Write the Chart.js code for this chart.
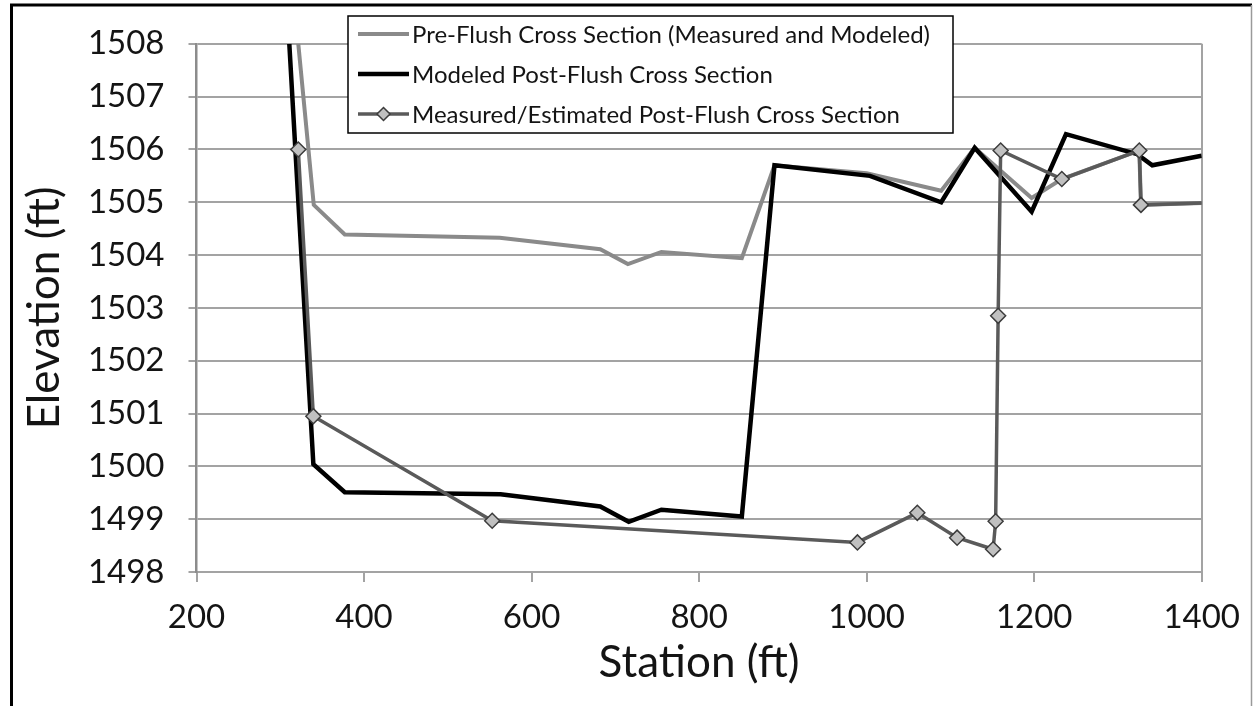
<!DOCTYPE html>
<html>
<head>
<meta charset="utf-8">
<script src="https://cdn.jsdelivr.net/npm/chart.js@4.4.1/dist/chart.umd.min.js"></script>
<style>
  html, body { margin: 0; padding: 0; background: #fff; }
  #wrap { width: 1257px; height: 706px; }
</style>
</head>
<body>
<div id="wrap"><canvas id="grafico" width="1257" height="706"></canvas></div>
<script>
// station (ft) and elevation (ft)
var preStation  = [321.5, 340, 377, 562, 682, 715, 755, 851, 890, 1000, 1089, 1129, 1197, 1233, 1325.5, 1327.5, 1430];
var preElev     = [1508, 1504.95, 1504.39, 1504.33, 1504.11, 1503.83, 1504.06, 1503.94, 1505.7, 1505.55, 1505.22, 1506.03, 1505.08, 1505.44, 1505.98, 1504.95, 1505.0];

var modStation  = [310.8, 339.5, 377, 563, 682, 716, 755, 851, 890, 1004, 1089, 1129, 1197, 1238, 1323, 1341, 1400];
var modElev     = [1508, 1500.04, 1499.51, 1499.47, 1499.24, 1498.95, 1499.18, 1499.05, 1505.7, 1505.5, 1505.0, 1506.03, 1504.82, 1506.29, 1505.91, 1505.7, 1505.88];

var measStation = [321.5, 339.5, 553, 989, 1060.5, 1108, 1151, 1154, 1157, 1160, 1233, 1325.5, 1327.5, 1430];
var measElev    = [1506.0, 1500.95, 1498.97, 1498.56, 1499.12, 1498.65, 1498.43, 1498.96, 1502.85, 1505.98, 1505.44, 1505.98, 1504.95, 1505.0];

var nombres = [
    "Pre-Flush Cross Section (Measured and Modeled)",
    "Modeled Post-Flush Cross Section",
    "Measured/Estimated Post-Flush Cross Section"
];

var xMin = 200, xMax = 1400, xPaso = 200;
var yMin = 1498, yMax = 1508, yPaso = 1;

function pares(xs, ys) {
    return xs.map(function (x, i) { return {x: x, y: ys[i]}; });
}

var colorTexto = '#141414';
var colorRejilla = '#a3a3a3';

var datos = [
    {label: nombres[0], data: pares(preStation, preElev), borderColor: '#8a8a8a', borderWidth: 4, pointRadius: 0, order: 3},
    {label: nombres[1], data: pares(modStation, modElev), borderColor: '#000000', borderWidth: 4.5, pointRadius: 0, order: 2},
    {label: nombres[2], data: pares(measStation, measElev), borderColor: '#5a5a5a', borderWidth: 3.5,
        pointStyle: 'rectRot', pointRadius: 7.5, pointBackgroundColor: '#c0c0c0', pointBorderColor: '#3c3c3c', pointBorderWidth: 1.5, order: 1}
];

// white page plus the frame around the picture
var marco = {
    id: 'marco',
    beforeDraw: function (chart) {
        var ctx = chart.ctx;
        ctx.save();
        ctx.fillStyle = '#fff';
        ctx.fillRect(0, 0, chart.width, chart.height);
        ctx.restore();
    },
    afterDraw: function (chart) {
        var ctx = chart.ctx;
        ctx.save();
        ctx.strokeStyle = '#000';
        ctx.lineWidth = 3;
        ctx.beginPath();
        ctx.moveTo(11.5, 720); ctx.lineTo(11.5, 5); ctx.lineTo(1252, 5);
        ctx.stroke();
        ctx.strokeStyle = '#9a9a9a';
        ctx.lineWidth = 1.5;
        ctx.beginPath();
        ctx.moveTo(1251.5, 5); ctx.lineTo(1251.5, 720);
        ctx.stroke();
        ctx.restore();
    }
};

// boxed legend sitting inside the plot
var leyenda = {
    id: 'leyenda',
    afterDatasetsDraw: function (chart) {
        var ctx = chart.ctx;
        ctx.save();
        ctx.fillStyle = '#fff';
        ctx.fillRect(348, 16, 605, 117);
        ctx.strokeStyle = '#000';
        ctx.lineWidth = 1.5;
        ctx.strokeRect(348, 16, 605, 117);
        ctx.font = '24px Lato';
        ctx.textBaseline = 'middle';
        chart.data.datasets.forEach(function (ds, i) {
            var y = 34 + i * 40;
            ctx.strokeStyle = ds.borderColor;
            ctx.lineWidth = ds.borderWidth;
            ctx.beginPath();
            ctx.moveTo(358, y); ctx.lineTo(409, y);
            ctx.stroke();
            if (ds.pointRadius > 0) {
                var r = 6.5, cx = 383.5;
                ctx.beginPath();
                ctx.moveTo(cx, y - r); ctx.lineTo(cx + r, y); ctx.lineTo(cx, y + r); ctx.lineTo(cx - r, y);
                ctx.closePath();
                ctx.fillStyle = ds.pointBackgroundColor;
                ctx.fill();
                ctx.strokeStyle = ds.pointBorderColor;
                ctx.lineWidth = ds.pointBorderWidth;
                ctx.stroke();
            }
            ctx.fillStyle = colorTexto;
            ctx.fillText(ds.label, 412, y + 1);
        });
        ctx.restore();
    }
};

function sinComa(v) { return String(v); }

var grafico = new Chart(document.getElementById("grafico").getContext("2d"), {
    type: 'line',
    data: {datasets: datos},
    plugins: [marco, leyenda],
    options: {
        responsive: false,
        animation: false,
        devicePixelRatio: 1,
        layout: {padding: {left: 10, right: 55.3, top: 33.3, bottom: 0}},
        elements: {line: {tension: 0, fill: false}},
        plugins: {legend: {display: false}, tooltip: {enabled: false}},
        scales: {
            x: {
                type: 'linear', min: xMin, max: xMax,
                afterFit: function (s) { s.height = 134; },
                ticks: {stepSize: xPaso, padding: 16, color: colorTexto, font: {family: 'Lato', size: 33}, callback: sinComa},
                grid: {
                    color: function (c) { return c.tick && c.tick.value === xMax ? colorRejilla : 'rgba(0,0,0,0)'; },
                    tickColor: colorRejilla, lineWidth: 2, tickLength: 10
                },
                border: {color: colorRejilla, width: 2},
                title: {display: true, text: 'Station (ft)', color: colorTexto, font: {family: 'Lato', size: 44}, padding: {top: 0, bottom: 17}}
            },
            y: {
                min: yMin, max: yMax,
                afterFit: function (s) { s.width = 186.5; },
                ticks: {stepSize: yPaso, padding: 24, color: colorTexto, font: {family: 'Lato', size: 33}, callback: sinComa},
                grid: {color: colorRejilla, lineWidth: 2, tickLength: 8},
                border: {color: '#8c8c8c', width: 2.5},
                title: {display: true, text: 'Elevation (ft)', color: colorTexto, font: {family: 'Lato', size: 44}, padding: {top: 8, bottom: 0}}
            }
        }
    }
});
</script>
</body>
</html>
